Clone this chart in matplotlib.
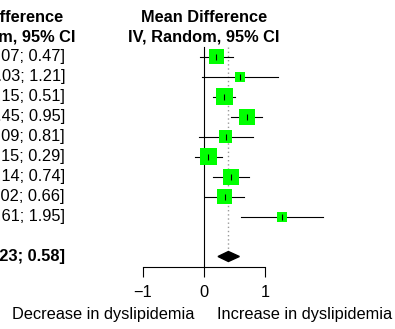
import matplotlib
matplotlib.use("Agg")
from matplotlib import pyplot as plt
from matplotlib.patches import Polygon

plt.rcParams['font.family'] = ['Liberation Sans', 'DejaVu Sans']

# study estimates (mean difference, 95% CI)
means = [0.20, 0.59, 0.33, 0.70, 0.36, 0.07, 0.44, 0.34, 1.28]
lower = [-0.07, -0.03, 0.15, 0.45, -0.09, -0.15, 0.14, 0.02, 0.61]
upper = [0.47, 1.21, 0.51, 0.95, 0.81, 0.29, 0.74, 0.66, 1.95]
weights = [15, 10, 17, 16, 13, 17, 16, 15, 10]   # box side, px

# pooled random-effects estimate
pooled = 0.40
pooled_lo = 0.23
pooled_hi = 0.58

ticks = [-1, 0, 1]
tick_labels = ["\u22121", "0", "1"]

fig = plt.figure(figsize=(3.95, 3.29), dpi=100)
ax = fig.add_axes([0, 0, 1, 1])
ax.set_xlim((0 - 204) / 61, (395 - 204) / 61)
ax.set_ylim((329 - 56.5) / 20, -56.5 / 20)
ax.patch.set_alpha(0)

fs = 11.8
rows = list(range(len(means)))
pooled_row = 10
text_x = (65 - 204) / 61

# CI text column
for i in rows:
    ax.text(text_x, i, "%.2f [%.2f; %.2f]" % (means[i], lower[i], upper[i]),
            ha='right', va='center', fontsize=fs)
ax.text(text_x, pooled_row, "%.2f [%.2f; %.2f]" % (pooled, pooled_lo, pooled_hi),
        ha='right', va='center', fontsize=fs, fontweight='bold')

# headers
for x in [(0 - 204) / 61, 0]:
    ax.text(x, -1.97, "Mean Difference", ha='center', va='center',
            fontsize=fs, fontweight='bold')
    ax.text(x, -1.0, "IV, Random, 95% CI", ha='center', va='center',
            fontsize=fs, fontweight='bold')

# reference lines
ax.plot([0, 0], [-0.47, 10.5], color='black', lw=0.8)
ax.plot([pooled, pooled], [-0.47, 9.65], color='#999999', lw=1.0, ls=(0, (1, 2)))

# CIs and weighted boxes
for i in rows:
    ax.plot([lower[i], upper[i]], [i, i], color='black', lw=0.8, zorder=2)
ax.scatter(means, rows, marker='s', s=[(w * 0.72) ** 2 for w in weights],
           color='#00ff00', linewidths=0, zorder=3)
ax.scatter(means, rows, marker='|', s=25, color='black', linewidths=0.8, zorder=4)

# pooled diamond
ax.add_patch(Polygon([(pooled_lo, pooled_row), (pooled, pooled_row - 0.25),
                      (pooled_hi, pooled_row), (pooled, pooled_row + 0.25)],
                     closed=True, color='black', zorder=3))

# x axis
for s in ['top', 'left', 'right']:
    ax.spines[s].set_visible(False)
ax.spines['bottom'].set_position(('data', 10.5))
ax.spines['bottom'].set_bounds(-1, 1)
ax.spines['bottom'].set_linewidth(0.8)
ax.set_xticks(ticks)
ax.set_xticklabels(tick_labels)
ax.tick_params(axis='x', direction='out', length=7.5, width=0.8, pad=6, labelsize=fs)
ax.set_yticks([])

ax.text(-0.15, 13.13, "Decrease in dyslipidemia", ha='right', va='baseline', fontsize=fs)
ax.text(0.21, 13.13, "Increase in dyslipidemia", ha='left', va='baseline', fontsize=fs)

fig.savefig("out.png", dpi=100)
